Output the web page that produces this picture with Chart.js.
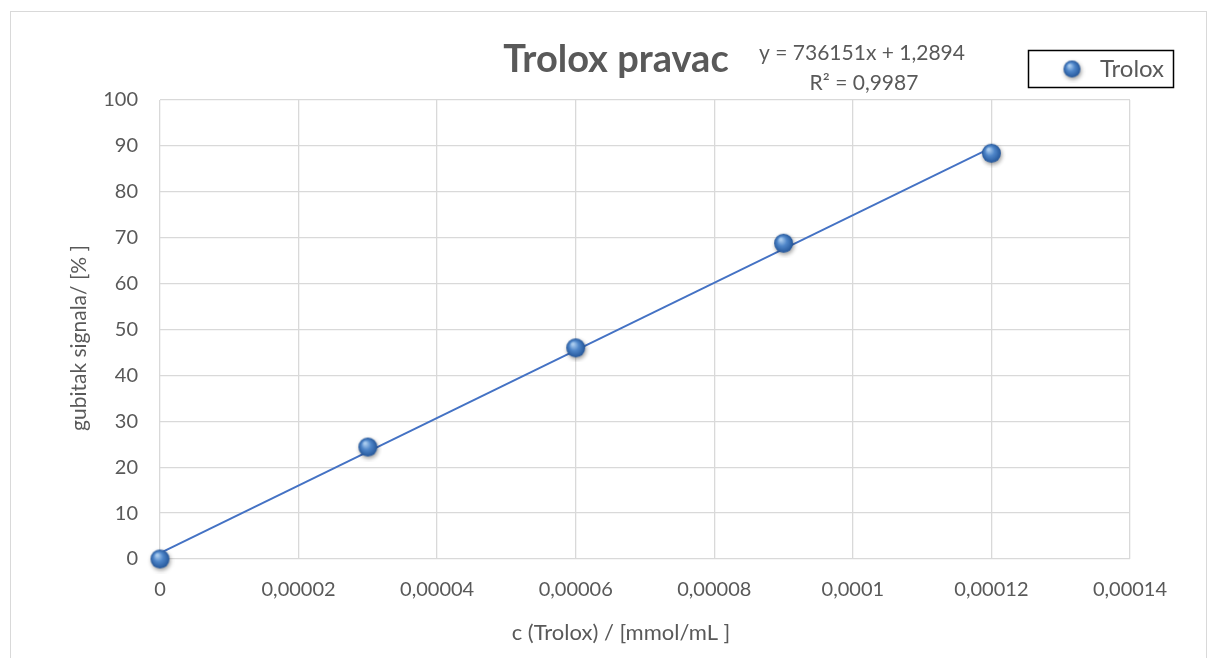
<!DOCTYPE html>
<html>
<head>
<meta charset="utf-8">
<script src="https://cdn.jsdelivr.net/npm/chart.js@4.4.1/dist/chart.umd.min.js"></script>
<style>
  html, body { margin: 0; padding: 0; background: #fff; }
  #wrap { width: 1209px; height: 658px; position: relative; }
</style>
</head>
<body>
<div id="wrap"><canvas id="chart" width="1209" height="658"></canvas></div>
<script>
// Data
const concentrations = [0, 0.00003, 0.00006, 0.00009, 0.00012];
const signalLoss = [0, 24.4, 46.0, 68.8, 88.4];

// Linear trendline endpoints (from y = 736151x + 1,2894)
const trendX = [0, 0.00012];
const trendY = [1.29, 89.63];

const xTickLabels = ["0", "0,00002", "0,00004", "0,00006", "0,00008", "0,0001", "0,00012", "0,00014"];
const seriesName = "Trolox";
const chartTitle = "Trolox pravac";
const equationLines = ["y = 736151x + 1,2894", "R² = 0,9987"];
const xTitle = "c (Trolox) / [mmol/mL ]";
const yTitle = "gubitak signala/ [% ]";

const FONT = "Lato, 'Open Sans', sans-serif";
const GREY = "#595959";

// Sphere-like marker, similar to the Excel 3D point style
function makeSphere(r) {
    const size = Math.ceil(r * 2) + 10;
    const c = document.createElement("canvas");
    c.width = size; c.height = size;
    const g = c.getContext("2d");
    const cx = size / 2, cy = size / 2;
    g.shadowColor = "rgba(0,0,0,0.4)";
    g.shadowBlur = 4;
    g.shadowOffsetX = 1;
    g.shadowOffsetY = 2;
    const grad = g.createRadialGradient(cx - r * 0.3, cy - r * 0.4, r * 0.1, cx, cy, r);
    grad.addColorStop(0, "#a9cbee");
    grad.addColorStop(0.45, "#4f86c9");
    grad.addColorStop(1, "#24569a");
    g.fillStyle = grad;
    g.beginPath();
    g.arc(cx, cy, r, 0, Math.PI * 2);
    g.fill();
    return c;
}
const sphere = makeSphere(9.5);
const legendSphere = makeSphere(8.5);

// Frame, titles, equation and legend
const decorations = {
    id: "decorations",
    beforeDraw(chart) {
        const ctx = chart.ctx;
        ctx.save();
        ctx.fillStyle = "#fff";
        ctx.fillRect(0, 0, chart.width, chart.height);
        ctx.strokeStyle = "#d9d9d9";
        ctx.lineWidth = 1;
        ctx.strokeRect(10.5, 11.5, 1196, 660);
        ctx.restore();
    },
    afterDraw(chart) {
        const ctx = chart.ctx;
        ctx.save();
        ctx.fillStyle = GREY;
        ctx.textBaseline = "middle";
        ctx.textAlign = "center";
        ctx.font = "bold 38px " + FONT;
        ctx.fillText(chartTitle, 616, 60);

        ctx.font = "21px " + FONT;
        ctx.fillText(equationLines[0], 862, 53);
        ctx.fillText(equationLines[1], 864, 83);

        // axis titles
        ctx.font = "22px " + FONT;
        ctx.fillText(xTitle, 621, 633);
        ctx.save();
        ctx.translate(79, 338);
        ctx.rotate(-Math.PI / 2);
        ctx.font = "21px " + FONT;
        ctx.fillText(yTitle, 0, 0);
        ctx.restore();

        // legend
        ctx.strokeStyle = "#000";
        ctx.lineWidth = 1.5;
        ctx.strokeRect(1028.5, 50.5, 145, 37);
        ctx.drawImage(legendSphere, 1072 - legendSphere.width / 2, 69 - legendSphere.height / 2);
        ctx.textAlign = "left";
        ctx.font = "24px " + FONT;
        ctx.fillText(seriesName, 1100, 69);
        ctx.restore();
    }
};

const ctx = document.getElementById("chart").getContext("2d");
new Chart(ctx, {
    type: "scatter",
    data: {
        datasets: [
            {
                label: seriesName,
                data: concentrations.map((x, i) => ({ x: x, y: signalLoss[i] })),
                pointStyle: sphere,
                pointRadius: 10,
                clip: false,
                order: 1
            },
            {
                label: "Linear (" + seriesName + ")",
                type: "line",
                data: trendX.map((x, i) => ({ x: x, y: trendY[i] })),
                borderColor: "#4472c4",
                borderWidth: 1.8,
                pointRadius: 0,
                fill: false,
                order: 2
            }
        ]
    },
    options: {
        responsive: false,
        animation: false,
        layout: { padding: { left: 0, top: 100, right: 79, bottom: 0 } },
        plugins: {
            legend: { display: false },
            title: { display: false },
            tooltip: { enabled: false }
        },
        scales: {
            x: {
                type: "linear",
                min: 0,
                max: 0.00014,
                afterBuildTicks(scale) {
                    scale.ticks = xTickLabels.map((_, i) => ({ value: i * 0.00002 }));
                },
                afterFit(scale) { scale.height = 99; },
                grid: { color: "#d9d9d9", lineWidth: 1.3, drawTicks: false },
                border: { display: false },
                ticks: {
                    padding: 19,
                    color: GREY,
                    font: { family: FONT, size: 20 },
                    maxRotation: 0,
                    autoSkip: false,
                    callback: (v, i) => xTickLabels[i]
                }
            },
            y: {
                min: 0,
                max: 100,
                afterFit(scale) { scale.width = 160; },
                grid: { color: "#d9d9d9", lineWidth: 1.3, drawTicks: false },
                border: { display: false },
                ticks: {
                    stepSize: 10,
                    padding: 22,
                    color: GREY,
                    font: { family: FONT, size: 20 }
                }
            }
        }
    },
    plugins: [decorations]
});
</script>
</body>
</html>
